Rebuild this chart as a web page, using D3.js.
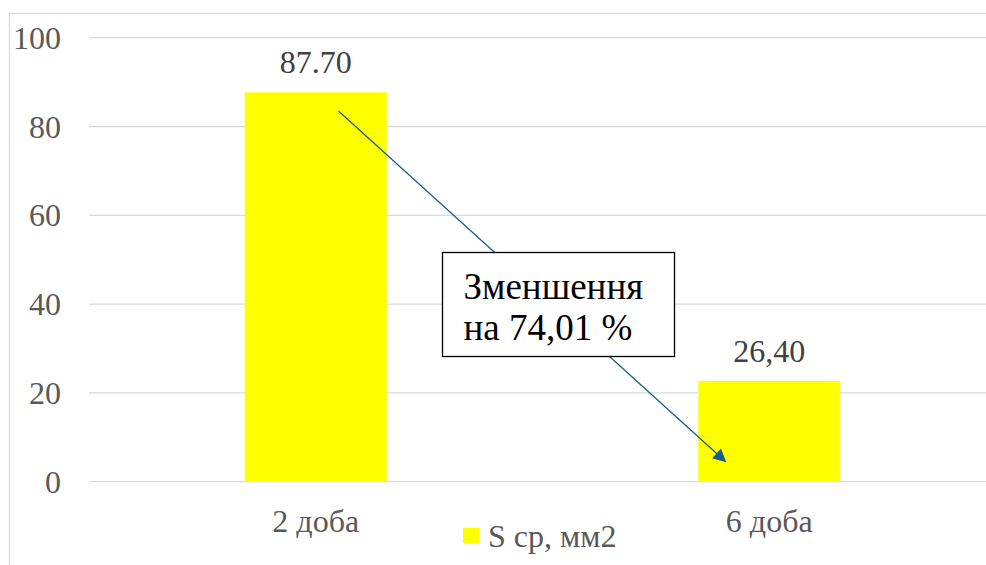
<!DOCTYPE html>
<html lang="uk">
<head>
    <meta charset="UTF-8">
    <title>S ср, мм2</title>
    <script src="https://d3js.org/d3.v7.min.js"></script>
    <style>
        body { margin: 0; background: #fff; }
        svg { display: block; }
        text { font-family: "Liberation Serif", "Times New Roman", serif; }
        .tick text { fill: #595959; font-size: 32px; }
        .grid line { stroke: #d9d9d9; stroke-width: 1.3; }
    </style>
</head>
<body>
    <svg width="986" height="565"></svg>
    <script>
        const width = 986;
        const height = 565;

        // chart data
        const categories = ["2 доба", "6 доба"];
        const values = [87.7, 22.7];
        const valueLabels = ["87.70", "26,40"];
        const yTicks = [0, 20, 40, 60, 80, 100];
        const seriesName = "S ср, мм2";
        const note = ["Зменшення", "на 74,01 %"];

        const svg = d3.select("svg");
        const barColor = "#ffff00";
        const arrowColor = "#156082";

        // outer chart frame (right/bottom edge fall outside the picture)
        svg.append("rect")
            .attr("x", 9.5).attr("y", 13.5)
            .attr("width", 1000).attr("height", 600)
            .attr("fill", "none")
            .attr("stroke", "#d9d9d9")
            .attr("stroke-width", 1.3);

        const x = d3.scaleBand()
            .domain(categories)
            .range([89, 996])
            .paddingInner(0.687)
            .paddingOuter(0.3435);

        const y = d3.scaleLinear()
            .domain([0, 100])
            .range([481.7, 37.7]);

        // gridlines
        svg.append("g")
            .attr("class", "grid")
            .selectAll("line")
            .data(yTicks)
            .enter().append("line")
            .attr("x1", 89)
            .attr("x2", width)
            .attr("y1", d => y(d))
            .attr("y2", d => y(d));

        // y axis labels
        const yAxis = svg.append("g")
            .attr("transform", "translate(66,0)")
            .call(d3.axisLeft(y).tickValues(yTicks).tickSize(0).tickPadding(5));
        yAxis.select(".domain").remove();
        yAxis.attr("font-family", null).attr("font-size", null);
        yAxis.selectAll("text").attr("dy", "0.33em");

        // bars
        svg.append("g")
            .selectAll("rect")
            .data(categories)
            .enter().append("rect")
            .attr("x", d => x(d))
            .attr("y", (d, i) => y(values[i]))
            .attr("width", x.bandwidth())
            .attr("height", (d, i) => y(0) - y(values[i]))
            .attr("fill", barColor);

        // value labels
        svg.append("g")
            .selectAll("text")
            .data(categories)
            .enter().append("text")
            .attr("x", d => x(d) + x.bandwidth() / 2)
            .attr("y", (d, i) => y(values[i]) - 19)
            .attr("text-anchor", "middle")
            .attr("fill", "#404040")
            .attr("font-size", 32)
            .text((d, i) => valueLabels[i]);

        // category labels
        svg.append("g")
            .selectAll("text")
            .data(categories)
            .enter().append("text")
            .attr("x", d => x(d) + x.bandwidth() / 2)
            .attr("y", 532)
            .attr("text-anchor", "middle")
            .attr("fill", "#595959")
            .attr("font-size", 32)
            .text(d => d);

        // legend
        const legend = svg.append("g").attr("transform", "translate(463,528)");
        legend.append("rect")
            .attr("width", 16).attr("height", 15)
            .attr("fill", barColor);
        legend.append("text")
            .attr("x", 25).attr("y", 19)
            .attr("fill", "#595959")
            .attr("font-size", 32)
            .text(seriesName);

        // arrow from first bar down to the second
        svg.append("defs").append("marker")
            .attr("id", "head")
            .attr("viewBox", "0 0 10 10")
            .attr("refX", 9).attr("refY", 5)
            .attr("markerWidth", 16).attr("markerHeight", 13)
            .attr("markerUnits", "userSpaceOnUse")
            .attr("orient", "auto")
            .append("path")
            .attr("d", "M0,0 L10,5 L0,10 Z")
            .attr("fill", arrowColor);

        const x1 = x(categories[0]) + x.bandwidth() * 0.66;
        const x2 = x(categories[1]) + x.bandwidth() * 0.19;
        svg.append("line")
            .attr("x1", x1).attr("y1", y(83.5))
            .attr("x2", x2).attr("y2", y(4.6))
            .attr("stroke", arrowColor)
            .attr("stroke-width", 1.3)
            .attr("marker-end", "url(#head)");

        // note box
        const box = svg.append("g").attr("transform", "translate(442.5,252.5)");
        box.append("rect")
            .attr("width", 232).attr("height", 104)
            .attr("fill", "#fff")
            .attr("stroke", "#000")
            .attr("stroke-width", 1.3);
        box.selectAll("text")
            .data(note)
            .enter().append("text")
            .attr("x", 21)
            .attr("y", (d, i) => 46.5 + i * 41)
            .attr("fill", "#000")
            .attr("font-size", 37)
            .text(d => d);
    </script>
</body>
</html>
